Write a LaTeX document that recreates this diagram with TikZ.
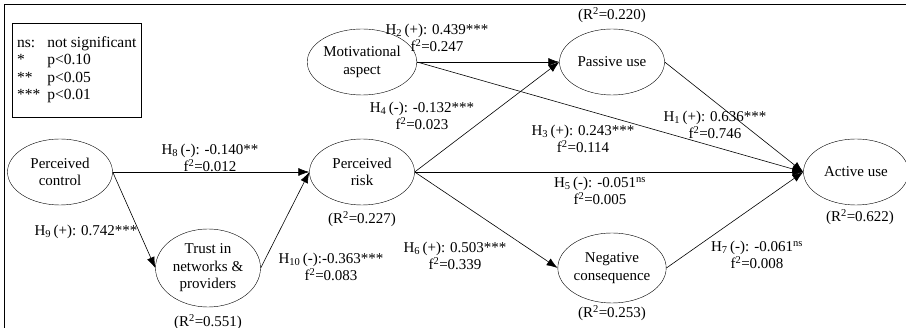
\documentclass[tikz,border=0pt]{standalone}
\usepackage{fontspec}
\setmainfont{Liberation Serif}
\usetikzlibrary{shapes.geometric,arrows.meta}

\newcommand{\hyp}[2]{H\textsubscript{#1}\,(#2):}
\newcommand{\fsq}[1]{f\textsuperscript{2}=#1}
\newcommand{\rsq}[1]{(R\textsuperscript{2}=#1)}

\begin{document}
\begin{tikzpicture}[x=1pt, y=-1pt, >={Latex[length=11pt,width=8pt]},
    font=\fontsize{15}{17.5}\selectfont,
    construct/.style={ellipse, draw, thin, fill=white, align=center, inner sep=0pt, minimum width=105, minimum height=66},
    path/.style={->, semithick},
    coef/.style={align=center, inner sep=1pt}]
		\useasboundingbox (0,0) rectangle (906,328);
		\draw[semithick] (4,328) -- (4,4) -- (906,4);
		% legend
		\node[draw, thin, anchor=north west, inner sep=3pt, minimum width=129, minimum height=94, align=left, font=\fontsize{15.5}{17.5}\selectfont] (legend) at (12,23)
			{\begin{tabular}{@{}l@{\hspace{7pt}}l@{}}
				ns: & not significant\\
				{*} & p<0.10\\
				{**} & p<0.05\\
				{***} & p<0.01
			\end{tabular}};
		% constructs
		\node[construct] (ctrl) at (60,172) {Perceived\\control};
		\node[construct] (mot) at (362,62) {Motivational\\aspect};
		\node[construct] (pas) at (612,62) {Passive use};
		\node[construct] (risk) at (362,172) {Perceived\\risk};
		\node[construct] (act) at (856,172) {Active use};
		\node[construct, minimum height=78] (trust) at (208,268) {Trust in\\networks \&\\providers};
		\node[construct, minimum height=70] (neg) at (612,268) {Negative\\consequence};
		% R squared
		\node (rpas) at (612,15) {\rsq{0.220}};
		\node (rrisk) at (362,219) {\rsq{0.227}};
		\node (ract) at (860,217) {\rsq{0.622}};
		\node (rtrust) at (208,322) {\rsq{0.551}};
		\node (rneg) at (612,313) {\rsq{0.253}};
		% paths
		\draw[path] (ctrl) -- (risk);
		\draw[path] (ctrl.east) -- (trust.west);
		\draw[path] (trust.east) -- (risk.west);
		\draw[path] (mot) -- (pas);
		\draw[path] (mot.east) -- (act.west);
		\draw[path] (risk.east) -- (pas.west);
		\draw[path] (risk) -- (act);
		\draw[path] (risk.east) -- (neg.west);
		\draw[path] (pas.east) -- (act.west);
		\draw[path] (neg.east) -- (act.west);
		% coefficients
		\node[coef] (c2) at (437,38) {\hyp{2}{+} 0.439***\\\fsq{0.247}};
		\node[coef] (c4) at (422,116) {\hyp{4}{-} -0.132***\\\fsq{0.023}};
		\node[coef] (c3) at (583,139) {\hyp{3}{+} 0.243***\\\fsq{0.114}};
		\node[coef] (c5) at (600,191) {\hyp{5}{-} -0.051\textsuperscript{ns}\\\fsq{0.005}};
		\node[coef] (c1) at (715,125) {\hyp{1}{+} 0.636***\\\fsq{0.746}};
		\node[coef] (c6) at (455,256) {\hyp{6}{+} 0.503***\\\fsq{0.339}};
		\node[coef] (c7) at (757,255) {\hyp{7}{-} -0.061\textsuperscript{ns}\\\fsq{0.008}};
		\node[coef] (c8) at (210,158) {\hyp{8}{-} -0.140**\\\fsq{0.012}};
		\node[coef] (c9) at (86,232) {\hyp{9}{+} 0.742***};
		\node[coef] (c10) at (331,267) {\hyp{10}{-}-0.363***\\\fsq{0.083}};
	\end{tikzpicture}
\end{document}
